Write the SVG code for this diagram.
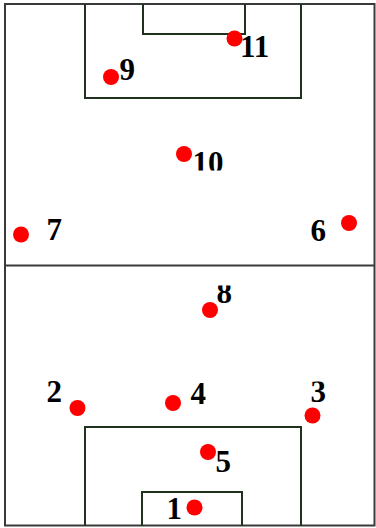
<svg xmlns="http://www.w3.org/2000/svg" width="376" height="528" viewBox="0 0 376 528">
<style>
.pitch{fill:none;stroke:#3a3a3a;stroke-width:2}
.box{fill:none;stroke:#1e321e;stroke-width:2}
.dot{fill:#ff0000}
.lbl{font-family:"Liberation Serif","Times New Roman",serif;font-weight:bold;font-size:31px;fill:#000}
</style>
<defs>
<clipPath id="c10"><rect x="180" y="140" width="60" height="30.5"/></clipPath>
<clipPath id="c8"><rect x="210" y="285.5" width="40" height="30"/></clipPath>
<clipPath id="c3"><rect x="300" y="381.5" width="40" height="30"/></clipPath>
</defs>
<rect width="376" height="528" fill="#fff"/>
<g id="pitch">
<rect class="pitch" x="5" y="4" width="369.5" height="521.5"/>
<line class="pitch" x1="5" y1="265.5" x2="374.5" y2="265.5"/>
<polyline class="box" points="85,4 85,98 301,98 301,4"/>
<polyline class="box" points="143,4 143,34 245,34 245,4"/>
<polyline class="box" points="85,525.5 85,427 301,427 301,525.5"/>
<polyline class="box" points="142,525.5 142,492 242,492 242,525.5"/>
</g>
<g id="p11"><circle class="dot" cx="234.5" cy="38.5" r="8"/><text class="lbl" x="240" y="57">11</text></g>
<g id="p9"><circle class="dot" cx="111" cy="77" r="8"/><text class="lbl" x="119.5" y="80">9</text></g>
<g id="p10"><circle class="dot" cx="184" cy="154" r="8"/><text class="lbl" x="192.5" y="172.5" clip-path="url(#c10)">10</text></g>
<g id="p7"><circle class="dot" cx="21" cy="234.5" r="8"/><text class="lbl" x="46.5" y="240">7</text></g>
<g id="p6"><circle class="dot" cx="349" cy="223" r="8"/><text class="lbl" x="310.5" y="241">6</text></g>
<g id="p8"><circle class="dot" cx="210" cy="310" r="8"/><text class="lbl" x="216.5" y="303" clip-path="url(#c8)">8</text></g>
<g id="p2"><circle class="dot" cx="77.5" cy="408" r="8"/><text class="lbl" x="46.5" y="402">2</text></g>
<g id="p4"><circle class="dot" cx="173" cy="403" r="8"/><text class="lbl" x="190.5" y="404">4</text></g>
<g id="p3"><circle class="dot" cx="312.5" cy="415.5" r="8"/><text class="lbl" x="310.5" y="401.5" clip-path="url(#c3)">3</text></g>
<g id="p5"><circle class="dot" cx="208" cy="452" r="8"/><text class="lbl" x="215.5" y="472">5</text></g>
<g id="p1"><circle class="dot" cx="194.5" cy="507.5" r="8"/><text class="lbl" x="166.5" y="518.5">1</text></g>
</svg>
